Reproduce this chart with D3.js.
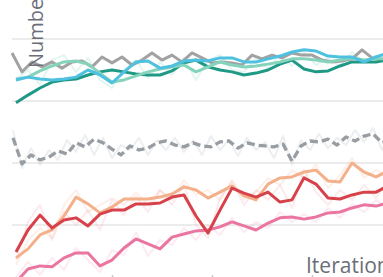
<!DOCTYPE html>
<html><head><meta charset="utf-8">
<script src="https://cdn.jsdelivr.net/npm/d3@7"></script>
<style>html,body{margin:0;padding:0;background:#fff;overflow:hidden}svg{display:block}</style>
</head><body>
<svg id="chart" width="383" height="277"></svg>
<script>
// ---- data ----
const smoothIter = [4,16,28,40,52,64,76,88,100,112,124,136,148,160,172,184,196,208,220,232,244,256,268,280,292,304,316,328,340,352,364,376];
const grayIter = [0,10,20,30,40,50,60,70,80,90,100,110,120,130,140,150,160,170,180,190,200,210,220,230,240,250,260,270,280,290,300,310,320,330,340,350,360,370,380];
const dashIter = [1,10,19,28,37,46,55,64,73,82,91,100,109,118,127,136,145,154,163,172,181,190,199,208,217,226,235,244,253,262,271,280,289,298,307,316,325,334,343,352,361,370,379];

const darkTeal = [59.4,61.9,64.2,66.1,66.8,67.1,68.4,69.4,70.0,69.4,68.7,68.4,68.4,69.7,72.3,73.2,71.0,70.0,69.4,68.4,69.0,70.0,71.9,73.2,70.3,69.4,69.7,71.3,72.6,72.6,72.6,73.2];
const lightBlue = [66.8,67.7,67.1,66.8,67.1,67.7,70.0,68.4,65.8,69.4,72.6,72.9,70.6,71.3,72.9,73.2,72.9,73.9,73.9,72.6,72.6,73.6,74.5,75.8,76.5,76.1,74.5,74.2,74.2,72.6,74.2,75.5];
const mint = [67.1,67.7,69.7,71.3,72.6,72.9,71.9,69.0,66.1,66.8,68.1,69.4,70.3,71.0,71.6,69.4,71.0,72.6,71.6,71.0,71.3,71.9,72.6,73.6,73.6,73.2,72.6,73.2,73.9,73.2,73.6,73.6];
const graySolid = [75.5,69.4,72.6,71.0,72.6,70.6,72.6,72.9,71.0,74.2,72.3,74.2,71.6,73.2,75.5,73.2,74.8,72.6,75.5,73.9,72.3,72.6,72.3,71.6,74.8,73.6,74.8,73.9,75.5,74.8,74.8,73.2,72.6,72.9,73.6,76.5,73.9,73.2,73.9];
const grayDashed = [48.1,39.7,42.6,41.0,41.9,43.9,42.9,46.5,45.2,47.7,46.5,44.5,42.6,45.5,44.2,44.8,46.5,47.1,45.8,45.2,46.5,45.5,45.2,46.8,47.1,44.8,46.5,45.8,45.5,45.2,46.1,40.6,45.5,47.1,46.8,47.7,45.8,48.4,47.1,48.7,49.4,46.5,47.4];
const red = [11.3,18.4,23.2,19.0,21.6,22.3,19.7,23.5,24.8,24.8,26.8,26.8,27.1,29.0,29.7,22.9,17.4,24.8,31.9,30.3,29.0,30.6,27.4,28.1,35.2,33.2,28.7,28.4,29.7,30.6,30.6,32.6];
const peach = [9.4,12.3,16.8,18.4,22.9,29.0,26.8,23.9,25.8,28.4,28.4,28.4,29.0,30.0,32.3,31.3,28.7,30.6,32.6,29.4,28.1,33.2,35.2,35.5,37.1,37.7,34.2,33.9,40.0,37.1,35.5,37.4];
const pink = [1.6,5.8,6.8,6.5,9.4,11.0,11.0,6.8,8.7,12.6,15.5,13.9,12.3,16.1,17.1,18.1,18.4,19.4,21.0,19.7,18.4,20.6,22.3,22.6,21.9,22.6,23.9,24.2,25.5,26.5,26.1,27.1];

// raw (faint) series
const rawTeal = [67.1,70.0,65.2,73.2,74.8,69.4,73.9,66.8,64.2,70.0,73.2,67.4,72.6,68.4,73.9,66.8,73.2,74.8,70.0,69.4,73.9,70.6,74.8,71.3,75.8,71.6,73.9,71.3,75.8,72.6,74.8,73.2];
const rawGray = [50.6,38.4,44.8,39.4,44.2,41.0,47.4,43.6,49.0,42.6,48.1,41.6,45.8,44.2,48.1,42.6,47.4,44.2,48.1,43.6,47.4,42.6,48.7,44.2,47.4,42.3,48.1,44.2,46.8,41.6,48.7,39.4,47.4,44.2,49.4,44.8,48.1,45.8,50.6,46.8,51.3,44.2,49.0];
const rawRed = [8.7,21.0,26.5,15.2,24.2,20.0,24.8,18.4,28.1,23.2,29.4,24.2,31.3,26.5,32.9,20.0,15.8,28.7,33.9,26.5,31.3,28.1,32.9,25.5,37.7,30.6,26.5,31.3,28.1,32.9,28.7,34.5];
const rawPeach = [7.1,15.2,19.0,15.8,26.5,31.3,24.2,26.5,28.7,26.5,30.6,26.5,31.3,28.1,34.5,29.7,31.3,28.1,34.5,28.1,30.6,35.2,32.9,37.7,35.2,39.4,31.9,36.1,41.6,35.2,37.7,36.1];
const rawPink = [3.2,8.1,3.9,9.4,5.5,12.6,8.7,4.8,11.9,10.3,17.7,10.0,15.2,13.5,19.0,15.2,20.0,16.8,22.3,17.7,21.0,19.0,24.2,21.0,23.5,21.0,25.5,22.3,26.8,24.2,28.1,25.5];

const gridValues = [20,40,60,80];
const xTickValues = [100,200,300];
const yLabel = "Number of Samples";
const xLabel = "Iterations";

// ---- drawing ----
const svg = d3.select("#chart");
const x = d3.scaleLinear().domain([0,100]).range([12,112]);
const y = d3.scaleLinear().domain([20,80]).range([225,39]);

svg.append("g").selectAll("line").data(gridValues).join("line")
  .attr("x1", x(0)).attr("x2", x(400))
  .attr("y1", d => y(d)).attr("y2", d => y(d))
  .attr("stroke", "#e6e6e6").attr("stroke-width", 1.5);

// x-axis ticks (their labels fall below the visible area, so only the marks are drawn)
const xAxis = svg.append("g").attr("transform","translate(0,275)")
  .call(d3.axisBottom(x).tickValues(xTickValues).tickSize(6).tickFormat(""));
xAxis.select(".domain").remove();
xAxis.selectAll(".tick line").attr("stroke","#c8c8c8").attr("stroke-width",1.5);
xAxis.selectAll(".tick text").remove();

const line = (iters, vals) => d3.line().x((d,i)=>x(iters[i])).y(d=>y(d))(vals);

const faint = [
  [smoothIter, rawTeal, "#7fd3bd"],
  [dashIter, rawGray, "#aab0b5"],
  [smoothIter, rawPeach, "#f5b79a"],
  [smoothIter, rawRed, "#f0a0a8"],
  [smoothIter, rawPink, "#f2a2bd"]
];
faint.forEach(([it, v, c]) => {
  svg.append("path").attr("d", line(it, v)).attr("fill","none")
    .attr("stroke", c).attr("stroke-opacity", 0.22).attr("stroke-width", 2).attr("stroke-linejoin","round");
});

const bold = [
  [grayIter, graySolid, "#a2a2a2", null, 3],
  [smoothIter, darkTeal, "#1f9985", null, 3],
  [smoothIter, mint, "#86d3bb", null, 3],
  [smoothIter, lightBlue, "#4fc1e0", null, 3],
  [dashIter, grayDashed, "#979da2", "8,4", 3.3],
  [smoothIter, pink, "#ea75a0", null, 3],
  [smoothIter, peach, "#f3b08b", null, 3],
  [smoothIter, red, "#d6414a", null, 3]
];
bold.forEach(([it, v, c, dash, w]) => {
  const p = svg.append("path").attr("d", line(it, v)).attr("fill","none")
    .attr("stroke", c).attr("stroke-width", w).attr("stroke-linejoin","round");
  if (dash) p.attr("stroke-dasharray", dash);
});

svg.append("text").attr("transform","translate(43,68) rotate(-90)")
  .attr("font-family","Open Sans").attr("font-size",20).attr("fill","#6b6e78")
  .text(yLabel);
svg.append("text").attr("x",306).attr("y",273)
  .attr("font-family","Open Sans").attr("font-size",21).attr("fill","#6b6e78")
  .text(xLabel);
</script>
</body></html>
